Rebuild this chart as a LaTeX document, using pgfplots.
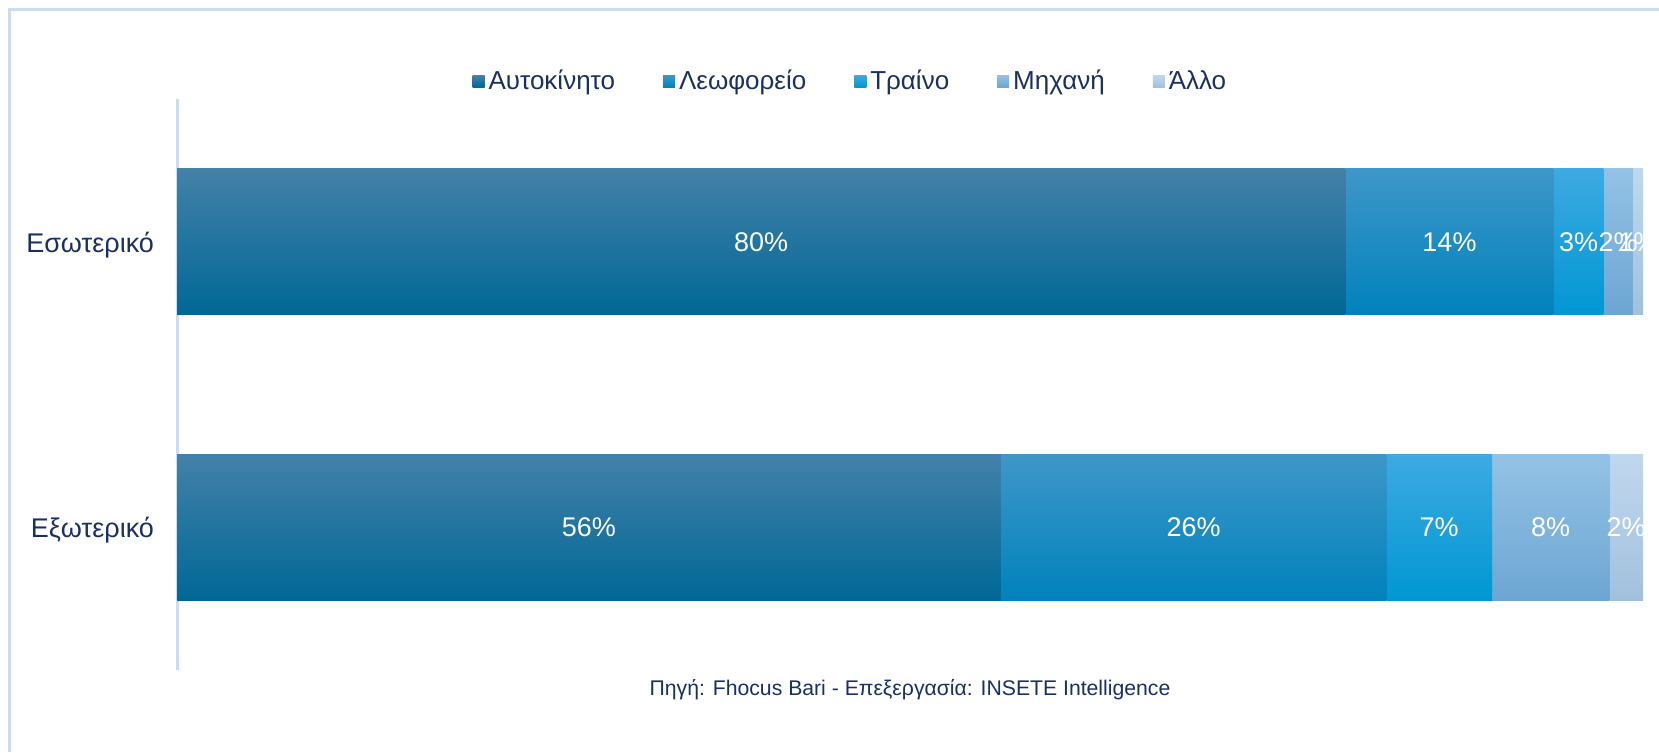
\documentclass[border=0pt]{standalone}
\usepackage{pgfplots}
\pgfplotsset{compat=1.18}
\usepackage{fontspec}
\setmainfont{Liberation Sans}
\definecolor{navy}{HTML}{1B2F63}
\definecolor{frameblue}{HTML}{C9DDF3}
\definecolor{c1t}{HTML}{4381A9}
\definecolor{c1m}{HTML}{0B76A6}
\definecolor{c1b}{HTML}{006896}
\definecolor{c2t}{HTML}{3E97C9}
\definecolor{c2m}{HTML}{0A8CC6}
\definecolor{c2b}{HTML}{0082BC}
\definecolor{c3t}{HTML}{3DAAE2}
\definecolor{c3m}{HTML}{0DA0DA}
\definecolor{c3b}{HTML}{0097D3}
\definecolor{c4t}{HTML}{93C2E5}
\definecolor{c4m}{HTML}{80B5DF}
\definecolor{c4b}{HTML}{6DA6D3}
\definecolor{c5t}{HTML}{C0D8EE}
\definecolor{c5m}{HTML}{B2CDE7}
\definecolor{c5b}{HTML}{A2C0DD}
\pgfplotsset{
  base/.style={at={(88.5pt,41pt)}, anchor=south west, scale only axis,
    width=733pt, height=285.5pt,
    xbar stacked, bar width=73pt,
    xmin=0, xmax=100, ymin=-0.5, ymax=1.5, enlarge x limits=false,
    xtick=\empty, major tick length=0pt,
    visualization depends on={rawx \as \rawx},
    nodes near coords={\pgfmathprintnumber[fixed,precision=0,assume math mode=true]{\rawx}\%},
    nodes near coords align=center,
    every node near coord/.append style={font=\fontsize{13.5}{16}\selectfont, text=white, anchor=center},
    legend image code/.code={\path[#1,draw=none] (0pt,-3pt) rectangle (6pt,3pt);},
  },
  s1/.style={top color=c1t, middle color=c1m, bottom color=c1b, draw=none},
  s2/.style={top color=c2t, middle color=c2m, bottom color=c2b, draw=none},
  s3/.style={top color=c3t, middle color=c3m, bottom color=c3b, draw=none},
  s4/.style={top color=c4t, middle color=c4m, bottom color=c4b, draw=none},
  s5/.style={top color=c5t, middle color=c5m, bottom color=c5b, draw=none},
}
\begin{document}
\begin{tikzpicture}
\useasboundingbox (0,0) rectangle (829.5pt,376pt);
\draw[frameblue, line width=1.5pt] (4.75pt,0) -- (4.75pt,371.25pt) -- (829.5pt,371.25pt);
\begin{axis}[base,
  axis x line=none, axis y line*=left,
  y axis line style={draw=frameblue, line width=1.5pt, -},
  ytick={0,1}, yticklabels={Εξωτερικό,Εσωτερικό},
  yticklabel style={font=\fontsize{13.5}{16}\selectfont, text=navy, xshift=-8pt, yshift=-1.5pt},
  legend columns=5,
  legend style={at={(0.46,1.031)}, anchor=center, draw=none, fill=none,
    font=\fontsize{13}{15}\selectfont, text=navy,
    /tikz/every even column/.append style={column sep=22pt}},
]
\addplot[s1] coordinates {(56.2,0)};
\addlegendentry{Αυτοκίνητο}
\addplot[s2] coordinates {(26.3,0)};
\addlegendentry{Λεωφορείο}
\addplot[s3] coordinates {(7.2,0)};
\addlegendentry{Τραίνο}
\addplot[s4] coordinates {(8.0,0)};
\addlegendentry{Μηχανή}
\addplot[s5] coordinates {(2.3,0)};
\addlegendentry{Άλλο}
\end{axis}
\begin{axis}[base, hide axis]
\addplot[s1] coordinates {(79.7,1)};
\addplot[s2] coordinates {(14.2,1)};
\addplot[s3] coordinates {(3.4,1)};
\addplot[s4] coordinates {(2.0,1)};
\addplot[s5] coordinates {(0.7,1)};
\end{axis}
\node[font=\fontsize{10.6}{12}\selectfont, text=navy] at (455pt,31pt) {Πηγή: Fhocus Bari - Επεξεργασία: INSETE Intelligence};
\end{tikzpicture}
\end{document}
